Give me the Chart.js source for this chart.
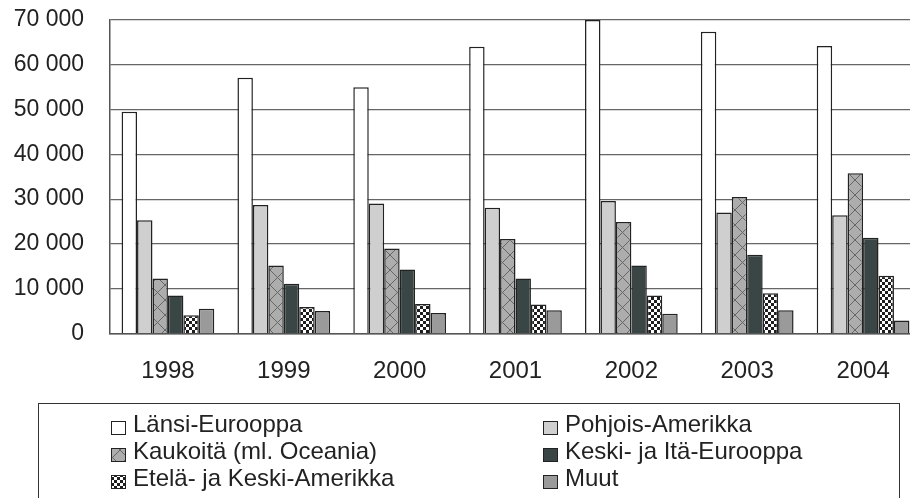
<!DOCTYPE html>
<html>
<head>
<meta charset="utf-8">
<script src="https://cdn.jsdelivr.net/npm/chart.js@4.4.1/dist/chart.umd.min.js"></script>
<style>
  html, body { margin: 0; padding: 0; background: #fff; }
  #wrap { width: 910px; height: 498px; overflow: hidden; position: relative; }
  canvas { display: block; }
</style>
</head>
<body>
<div id="wrap"><canvas id="myChart" width="921" height="498" style="width:921px;height:498px"></canvas></div>
<script>
const years = ['1998', '1999', '2000', '2001', '2002', '2003', '2004'];
const seriesNames = ['Länsi-Eurooppa', 'Pohjois-Amerikka', 'Kaukoitä (ml. Oceania)', 'Keski- ja Itä-Eurooppa', 'Etelä- ja Keski-Amerikka', 'Muut'];
const lansiEurooppa = [49500, 57100, 55000, 64000, 70000, 67400, 64200];
const pohjoisAmerikka = [25300, 28700, 29000, 28100, 29600, 27000, 26400];
const kaukoita = [12300, 15200, 19000, 21100, 24900, 30500, 35800];
const keskiItaEurooppa = [8500, 11100, 14300, 12300, 15200, 17600, 21400];
const etelaKeskiAmerikka = [4100, 5900, 6600, 6500, 8500, 9000, 12900];
const muut = [5500, 5000, 4600, 5200, 4400, 5200, 2900];

const FONT = '"Liberation Sans", Arial, sans-serif';
const ctx = document.getElementById('myChart');

// cross hatch pattern (grey with X lines)
function crossPattern() {
  const c = document.createElement('canvas');
  c.width = 15; c.height = 15;
  const g = c.getContext('2d');
  g.fillStyle = '#adadad';
  g.fillRect(0, 0, 15, 15);
  g.strokeStyle = '#666';
  g.lineWidth = 1;
  g.beginPath();
  g.moveTo(0, 0); g.lineTo(15, 15);
  g.moveTo(15, 0); g.lineTo(0, 15);
  g.stroke();
  return g.createPattern(c, 'repeat');
}

// small checkerboard
function checkerPattern() {
  const c = document.createElement('canvas');
  c.width = 6; c.height = 6;
  const g = c.getContext('2d');
  g.fillStyle = '#ffffff';
  g.fillRect(0, 0, 6, 6);
  g.fillStyle = '#1e1e1e';
  g.fillRect(0, 0, 3, 3);
  g.fillRect(3, 3, 3, 3);
  return g.createPattern(c, 'repeat');
}

const fills = ['#ffffff', '#cfcfcf', crossPattern(), '#3a4545', checkerPattern(), '#9a9a9a'];
const values = [lansiEurooppa, pohjoisAmerikka, kaukoita, keskiItaEurooppa, etelaKeskiAmerikka, muut];

// legend box drawn in two columns under the chart
const boxLegend = {
  id: 'boxLegend',
  afterDraw(chart) {
    const c = chart.ctx;
    c.save();
    c.strokeStyle = '#333';
    c.lineWidth = 1;
    c.strokeRect(38.5, 403.5, 861, 120);
    c.font = '24px ' + FONT;
    c.textBaseline = 'alphabetic';
    c.textAlign = 'left';
    chart.data.datasets.forEach(function(ds, i) {
      const col = i % 2, row = Math.floor(i / 2);
      const bx = col === 0 ? 111 : 543;
      const by = 421 + row * 27;
      c.fillStyle = ds.backgroundColor;
      c.fillRect(bx, by, 15, 14);
      c.strokeStyle = '#222';
      c.strokeRect(bx + 0.5, by + 0.5, 14, 13);
      c.fillStyle = '#222';
      c.fillText(ds.label, bx + 22, by + 11);
    });
    c.restore();
  }
};

new Chart(ctx, {
  type: 'bar',
  data: {
    labels: years,
    datasets: seriesNames.map(function(name, i) {
      return {
        label: name,
        data: values[i],
        backgroundColor: fills[i],
        borderColor: '#222',
        borderWidth: 1.5,
        borderSkipped: 'bottom',
        categoryPercentage: 0.8,
        barPercentage: 1.0
      };
    })
  },
  options: {
    responsive: false,
    animation: false,
    devicePixelRatio: 1,
    layout: { padding: { top: 20, right: 0, bottom: 0, left: 0 } },
    plugins: {
      legend: { display: false },
      tooltip: { enabled: false }
    },
    scales: {
      x: {
        grid: { display: false, drawTicks: false },
        border: { display: true, color: '#555', width: 1.5 },
        ticks: { color: '#222', font: { family: FONT, size: 24 }, padding: 23, maxRotation: 0 },
        afterFit: function(scale) { scale.height = 164.5; }
      },
      y: {
        min: 0,
        max: 70000,
        // invisible tick marks give the label gap (ticks.padding would also pad the top)
        grid: { color: '#666', lineWidth: 1.2, drawTicks: true, tickLength: 26, tickColor: 'rgba(0,0,0,0)' },
        border: { display: true, color: '#555', width: 1.5 },
        ticks: {
          stepSize: 10000,
          color: '#222',
          padding: 0,
          font: { family: FONT, size: 23 },
          callback: function(v) { return String(v).replace(/\B(?=(\d{3})+(?!\d))/g, ' '); }
        },
        afterFit: function(scale) { scale.width = 110; }
      }
    }
  },
  plugins: [boxLegend]
});
</script>
</body>
</html>
